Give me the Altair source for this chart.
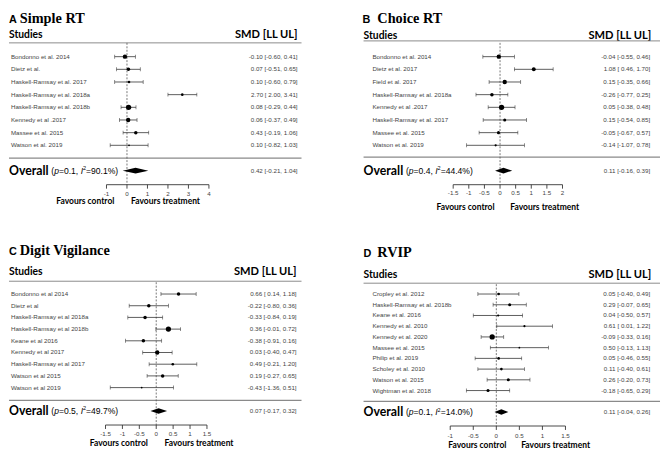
import altair as alt
import pandas as pd
import math

# ---------------- data ----------------
a_studies = ["Bondonno et al. 2014", "Dietz et al.", "Haskell-Ramsay et al. 2017",
             "Haskell-Ramsay et al. 2018a", "Haskell-Ramsay et al. 2018b",
             "Kennedy et al .2017", "Massee et al. 2015", "Watson et al. 2019"]
a_smd = [-0.10, 0.07, 0.10, 2.70, 0.08, 0.06, 0.43, 0.10]
a_ll = [-0.60, -0.51, -0.60, 2.00, -0.29, -0.37, -0.19, -0.82]
a_ul = [0.41, 0.65, 0.79, 3.41, 0.44, 0.49, 1.06, 1.03]
a_weight = [5.0, 4.0, 3.0, 3.0, 6.0, 5.0, 4.0, 2.0]
a_overall = [0.42, -0.21, 1.04]
a_p, a_i2 = "0.1", "90.1%"
a_ticks = [-1, 0, 1, 2, 3, 4]
a_tick_labels = ["-1", "0", "1", "2", "3", "4"]

b_studies = ["Bondonno et al. 2014", "Dietz et al. 2017", "Field et al. 2017",
             "Haskell-Ramsay et al. 2018a", "Kennedy et al .2017",
             "Haskell-Ramsay et al. 2017", "Massee et al. 2015", "Watson et al. 2019"]
b_smd = [-0.04, 1.08, 0.15, -0.26, 0.05, 0.15, -0.05, -0.14]
b_ll = [-0.55, 0.46, -0.35, -0.77, -0.38, -0.54, -0.67, -1.07]
b_ul = [0.46, 1.70, 0.66, 0.25, 0.48, 0.85, 0.57, 0.78]
b_weight = [5.0, 4.5, 5.0, 4.0, 6.0, 3.5, 3.5, 2.5]
b_overall = [0.11, -0.16, 0.39]
b_p, b_i2 = "0.4", "44.4%"
b_ticks = [-1.5, -1, -0.5, 0, 0.5, 1, 1.5, 2]
b_tick_labels = ["-1.5", "-1", "-0.5", "0", "0.5", "1", "1.5", "2"]

c_studies = ["Bondonno et al 2014", "Dietz et al", "Haskell-Ramsay et al 2018a",
             "Haskell-Ramsay et al 2018b", "Keane et al 2016", "Kennedy et al 2017",
             "Haskell-Ramsay et al 2017", "Watson et al 2015", "Watson et al 2019"]
c_smd = [0.66, -0.22, -0.33, 0.36, -0.38, 0.03, 0.49, 0.19, -0.43]
c_ll = [0.14, -0.80, -0.84, -0.01, -0.91, -0.40, -0.21, -0.27, -1.36]
c_ul = [1.18, 0.36, 0.19, 0.72, 0.16, 0.47, 1.20, 0.65, 0.51]
c_weight = [4.0, 4.0, 4.0, 6.0, 4.0, 5.0, 3.0, 4.0, 2.0]
c_overall = [0.07, -0.17, 0.32]
c_p, c_i2 = "0.5", "49.7%"
c_ticks = [-1.5, -1, -0.5, 0, 0.5, 1, 1.5]
c_tick_labels = ["-1.5", "-1", "-0.5", "0", "0.5", "1", "1.5"]

d_studies = ["Cropley et al. 2012", "Haskell-Ramsay et al. 2018b", "Keane et al. 2016",
             "Kennedy et al. 2010", "Kennedy et al. 2020", "Massee et al. 2015",
             "Philip et al. 2019", "Scholey et al. 2010", "Watson et al. 2015",
             "Wightman et al. 2018"]
d_smd = [0.05, 0.29, 0.04, 0.61, -0.09, 0.50, 0.05, 0.11, 0.26, -0.18]
d_ll = [-0.40, -0.07, -0.50, 0.01, -0.33, -0.13, -0.46, -0.40, -0.20, -0.65]
d_ul = [0.49, 0.65, 0.57, 1.22, 0.16, 1.13, 0.55, 0.61, 0.73, 0.29]
d_weight = [3.0, 3.5, 2.5, 2.5, 6.0, 2.0, 3.0, 3.0, 3.5, 3.5]
d_overall = [0.11, -0.04, 0.26]
d_p, d_i2 = "0.1", "14.0%"
d_ticks = [-1, -0.5, 0, 0.5, 1, 1.5]
d_tick_labels = ["-1", "-0.5", "0", "0.5", "1", "1.5"]

# ---------------- style ----------------
SANS = "Liberation Sans"
HEAD = "Lato"
SERIF = "Liberation Serif"
SMALL = 6.3
GREY = "#444444"

# Arial/Liberation Sans advance widths (em) for the overall-statistics text
AW = {"(": .333, ")": .333, "p": .556, "=": .584, ".": .278, ",": .278, " ": .278,
      "I": .278, "%": .889}
for _d in "0123456789":
    AW[_d] = .556


def tw(s, f):
    return sum(AW.get(c, .556) for c in s) * f


def fmt(v):
    return f"{v:.2f}"


def ci_label(e, lo, hi):
    los = fmt(lo) if lo < 0 else " " + fmt(lo)
    return f"{fmt(e)} [{los}, {fmt(hi)}]"


def txt(s, x, y, size, font=SANS, weight="normal", align="left", color="black",
        baseline="middle", style="normal"):
    return alt.Chart(pd.DataFrame({"t": [s]})).mark_text(
        align=align, baseline=baseline, font=font, fontSize=size, fontWeight=weight,
        color=color, fontStyle=style
    ).encode(x=alt.value(x), y=alt.value(y), text="t:N")


def hline(x1, x2, y, color, width):
    return alt.Chart(pd.DataFrame({"a": [0]})).mark_rule(color=color, strokeWidth=width).encode(
        x=alt.value(x1), x2=alt.value(x2), y=alt.value(y))


def lin_domain(v0, v1, p0, p1, size):
    s = (p1 - p0) / (v1 - v0)
    d0 = v0 - p0 / s
    return [d0, d0 + size / s]


def stats_text(x0, y, pval, i2):
    f = 8.7
    segs = [("(", "normal", f, 0), ("p", "italic", f, 0), (f"={pval}, ", "normal", f, 0),
            ("I", "italic", f, 0), ("2", "normal", 5.6, -3), (f"={i2})", "normal", f, 0)]
    out = []
    x = x0
    for s, st, size, dy in segs:
        out.append(txt(s, x, y + dy, size, font=SANS, style=st))
        x += tw(s, size)
    return out


def panel(letter, title, studies, smd, ll, ul, weight, ov, pval, i2, ticks, tlabels, g):
    n = len(studies)
    df = pd.DataFrame({
        "study": studies, "smd": smd, "ll": ll, "ul": ul,
        "size": [math.pi / 4 * w * w for w in weight],
        "row": list(range(n)),
        "label": [ci_label(e, lo, hi) for e, lo, hi in zip(smd, ll, ul)],
    })
    xs = alt.Scale(domain=lin_domain(ticks[0], ticks[-1], g["xr"][0], g["xr"][1], g["w"]),
                   nice=False, zero=False)
    ys = alt.Scale(domain=lin_domain(0, n - 1, g["r0"], g["r1"], g["h"]),
                   reverse=True, nice=False, zero=False)
    X = lambda f: alt.X(f, type="quantitative", scale=xs, axis=None)
    Y = lambda f: alt.Y(f, type="quantitative", scale=ys, axis=None)
    base = alt.Chart(df)
    spacing = (g["r1"] - g["r0"]) / (n - 1)
    orow = n + 1

    layers = []
    layers.append(txt(letter, g["lx"], g["ty"] + 2, 11, weight="bold", baseline="top"))
    layers.append(txt(title, g["tx"], g["ty"], 14.5, font=SERIF, weight="bold", baseline="top"))
    layers.append(txt("Studies", g["left"], g["hy"], 10.5, font=HEAD, weight="bold"))
    layers.append(txt("SMD [LL UL]", g["smdx"], g["hy"], 11.3, font=HEAD, weight="bold", align="right"))
    layers.append(hline(g["left"], g["right"], g["hly"], "#8a8a8a", 1))
    layers.append(hline(g["left"], g["right"], g["sy"], "#8a8a8a", 1.3))

    layers.append(alt.Chart(pd.DataFrame({"z": [0]})).mark_rule(
        color="#555", strokeWidth=0.8, strokeDash=[2, 1.5]).encode(
        x=X("z"), y=alt.value(g["zy0"]), y2=alt.value(g["ay"])))

    layers.append(base.mark_rule(color="#333", strokeWidth=0.8).encode(x=X("ll"), x2="ul", y=Y("row")))
    layers.append(base.mark_tick(orient="vertical", size=4, thickness=0.8, color="#333").encode(x=X("ll"), y=Y("row")))
    layers.append(base.mark_tick(orient="vertical", size=4, thickness=0.8, color="#333").encode(x=X("ul"), y=Y("row")))
    layers.append(base.mark_circle(color="black", opacity=1).encode(
        x=X("smd"), y=Y("row"), size=alt.Size("size:Q", scale=None, legend=None)))
    layers.append(base.mark_text(align="left", font=SANS, fontSize=SMALL, color=GREY).encode(
        x=alt.value(g["namex"]), y=Y("row"), text="study:N"))
    layers.append(base.mark_text(align="right", font=SANS, fontSize=SMALL, color=GREY).encode(
        x=alt.value(g["valx"]), y=Y("row"), text="label:N"))

    half = 2.9 / spacing
    dia = pd.DataFrame({"x": [ov[1], ov[0], ov[2]],
                        "y": [orow, orow - half, orow],
                        "y2": [orow, orow + half, orow]})
    layers.append(alt.Chart(dia).mark_area(color="black").encode(x=X("x"), y=Y("y"), y2="y2"))
    odf = pd.DataFrame({"row": [orow], "label": [ci_label(*ov)]})
    layers.append(alt.Chart(odf).mark_text(align="right", font=SANS, fontSize=SMALL, color=GREY).encode(
        x=alt.value(g["valx"]), y=Y("row"), text="label:N"))
    oy = g["r0"] + spacing * orow
    layers.append(txt("Overall", g["left"], oy, 12.5, font=HEAD, weight="bold"))
    layers += stats_text(g["left"] + 43, oy + 0.5, pval, i2)

    ay = g["ay"]
    tdf = pd.DataFrame({"t": ticks, "lab": tlabels})
    adf = pd.DataFrame({"a": [ticks[0]], "b": [ticks[-1]]})
    layers.append(alt.Chart(adf).mark_rule(color="#333", strokeWidth=0.9).encode(
        x=X("a"), x2="b", y=alt.value(ay)))
    layers.append(alt.Chart(tdf).mark_rule(color="#333", strokeWidth=0.9).encode(
        x=X("t"), y=alt.value(ay), y2=alt.value(ay + 4)))
    layers.append(alt.Chart(tdf).mark_text(font=SANS, fontSize=SMALL, color=GREY, baseline="middle").encode(
        x=X("t"), y=alt.value(g["tly"]), text="lab:N"))
    layers.append(txt("Favours control", g["fcx"], g["fy"], 8.6, font=HEAD, weight="bold", align="right"))
    layers.append(txt("Favours treatment", g["ftx"], g["fy"], 8.6, font=HEAD, weight="bold"))

    return alt.layer(*layers).properties(width=g["w"], height=g["h"])


gA = dict(w=327, h=212, lx=0, tx=11, ty=0, left=0, right=297, smdx=293, hy=23, hly=31,
          sy=148, r0=45, r1=135, namex=2, valx=293, zy0=31, ay=175, tly=184.5,
          xr=[99, 203], fcx=107, ftx=124, fy=192)
gB = dict(w=334, h=212, lx=32, tx=47, ty=0, left=33, right=334, smdx=325, hy=24, hly=29,
          sy=147, r0=45, r1=135, namex=42, valx=324, zy0=31, ay=175, tly=183,
          xr=[124, 235], fcx=166, ftx=182, fy=198)
gC = dict(w=327, h=232, lx=0, tx=11, ty=23, left=0, right=297, smdx=292, hy=52, hly=61,
          sy=182, r0=74, r1=169, namex=2, valx=292, zy0=62, ay=207, tly=216.5,
          xr=[98, 201], fcx=141, ftx=158, fy=225)
gD = dict(w=334, h=232, lx=33, tx=47, ty=25, left=33, right=334, smdx=325, hy=55, hly=63,
          sy=183, r0=74, r1=172, namex=42, valx=324, zy0=64, ay=208, tly=218,
          xr=[121, 238], fcx=178, ftx=193, fy=227)

pA = panel("A", "Simple RT", a_studies, a_smd, a_ll, a_ul, a_weight, a_overall, a_p, a_i2,
           a_ticks, a_tick_labels, gA)
pB = panel("B", "Choice RT", b_studies, b_smd, b_ll, b_ul, b_weight, b_overall, b_p, b_i2,
           b_ticks, b_tick_labels, gB)
pC = panel("C", "Digit Vigilance", c_studies, c_smd, c_ll, c_ul, c_weight, c_overall, c_p, c_i2,
           c_ticks, c_tick_labels, gC)
pD = panel("D", "RVIP", d_studies, d_smd, d_ll, d_ul, d_weight, d_overall, d_p, d_i2,
           d_ticks, d_tick_labels, gD)

chart = alt.concat(pA, pB, pC, pD, columns=2, spacing=0, bounds="flush").properties(
    padding=0, background="white"
).configure_view(stroke=None)

chart.save("out.html", embed_options={"renderer": "svg", "actions": False})
